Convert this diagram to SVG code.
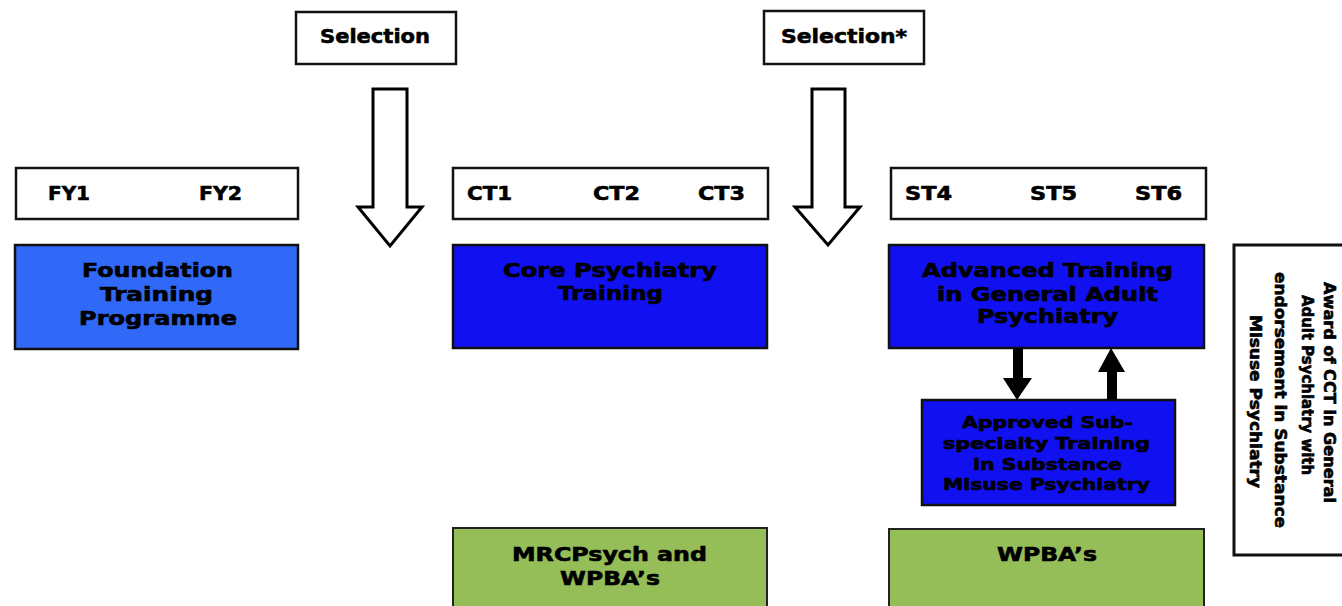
<svg xmlns="http://www.w3.org/2000/svg" width="1342" height="606" viewBox="0 0 1342 606">
<style>
.t{font-family:"DejaVu Sans",Verdana,sans-serif;font-weight:bold;fill:#000;stroke:#000;stroke-width:0.6}
.wb{fill:#fff;stroke:#111;stroke-width:2.5}
.blue1{fill:#3068F8;stroke:#111;stroke-width:2.5}
.blue2{fill:#1010F0;stroke:#111;stroke-width:2.5}
.green{fill:#95BD58;stroke:#222;stroke-width:2}
.blk{fill:#fff;stroke:#000;stroke-width:3;stroke-linejoin:miter}
</style>
<rect width="1342" height="606" fill="#fff"/>

<g id="selection1">
<rect class="wb" x="296" y="12" width="160" height="52"/>
<text class="t" x="320" y="43" font-size="20" textLength="110" lengthAdjust="spacingAndGlyphs">Selection</text>
</g>
<g id="selection2">
<rect class="wb" x="764" y="11" width="160" height="53"/>
<text class="t" x="781" y="43" font-size="20" textLength="126" lengthAdjust="spacingAndGlyphs">Selection*</text>
</g>

<g id="fy">
<rect class="wb" x="16" y="168" width="282" height="51"/>
<text class="t" x="48" y="200" font-size="19" textLength="42" lengthAdjust="spacingAndGlyphs">FY1</text>
<text class="t" x="199" y="200" font-size="19" textLength="43" lengthAdjust="spacingAndGlyphs">FY2</text>
</g>
<g id="ct">
<rect class="wb" x="453" y="168" width="315" height="51"/>
<text class="t" x="467" y="200" font-size="19" textLength="45" lengthAdjust="spacingAndGlyphs">CT1</text>
<text class="t" x="593" y="200" font-size="19" textLength="47" lengthAdjust="spacingAndGlyphs">CT2</text>
<text class="t" x="698" y="200" font-size="19" textLength="47" lengthAdjust="spacingAndGlyphs">CT3</text>
</g>
<g id="st">
<rect class="wb" x="891" y="168" width="315" height="51"/>
<text class="t" x="905" y="200" font-size="19" textLength="47" lengthAdjust="spacingAndGlyphs">ST4</text>
<text class="t" x="1030" y="200" font-size="19" textLength="47" lengthAdjust="spacingAndGlyphs">ST5</text>
<text class="t" x="1135" y="200" font-size="19" textLength="47" lengthAdjust="spacingAndGlyphs">ST6</text>
</g>

<g id="foundation">
<rect class="blue1" x="15" y="245" width="283" height="104"/>
<text class="t" x="82" y="277" font-size="19" textLength="151" lengthAdjust="spacingAndGlyphs">Foundation</text>
<text class="t" x="100" y="301" font-size="19" textLength="113" lengthAdjust="spacingAndGlyphs">Training</text>
<text class="t" x="79" y="325" font-size="19" textLength="158" lengthAdjust="spacingAndGlyphs">Programme</text>
</g>
<g id="core">
<rect class="blue2" x="453" y="245" width="314" height="103"/>
<text class="t" x="503" y="277" font-size="19" textLength="214" lengthAdjust="spacingAndGlyphs">Core Psychiatry</text>
<text class="t" x="558" y="300" font-size="19" textLength="105" lengthAdjust="spacingAndGlyphs">Training</text>
</g>
<g id="advanced">
<rect class="blue2" x="889" y="245" width="315" height="103"/>
<text class="t" x="922" y="277" font-size="19" textLength="251" lengthAdjust="spacingAndGlyphs">Advanced Training</text>
<text class="t" x="937" y="301" font-size="19" textLength="221" lengthAdjust="spacingAndGlyphs">in General Adult</text>
<text class="t" x="977" y="323" font-size="19" textLength="141" lengthAdjust="spacingAndGlyphs">Psychiatry</text>
</g>
<g id="subspecialty">
<rect class="blue2" x="922" y="400" width="253" height="105"/>
<text class="t" x="962" y="428" font-size="16" textLength="171" lengthAdjust="spacingAndGlyphs">Approved Sub-</text>
<text class="t" x="943" y="449" font-size="16" textLength="207" lengthAdjust="spacingAndGlyphs">specialty Training</text>
<text class="t" x="973" y="470" font-size="16" textLength="149" lengthAdjust="spacingAndGlyphs">in Substance</text>
<text class="t" x="943" y="490" font-size="16" textLength="207" lengthAdjust="spacingAndGlyphs">Misuse Psychiatry</text>
</g>
<g id="mrcpsych">
<rect class="green" x="453" y="528" width="314" height="100"/>
<text class="t" x="512" y="561" font-size="19" textLength="195" lengthAdjust="spacingAndGlyphs">MRCPsych and</text>
<text class="t" x="560" y="585" font-size="19" textLength="100" lengthAdjust="spacingAndGlyphs">WPBA’s</text>
</g>
<g id="wpba">
<rect class="green" x="889" y="529" width="315" height="100"/>
<text class="t" x="997" y="561" font-size="19" textLength="100" lengthAdjust="spacingAndGlyphs">WPBA’s</text>
</g>
<g id="award">
<rect fill="#fff" stroke="#111" stroke-width="3" x="1234" y="245" width="120" height="310"/>
<text class="t" font-size="15" transform="translate(1324,282) rotate(90)" textLength="221" lengthAdjust="spacingAndGlyphs">Award of CCT in General</text>
<text class="t" font-size="15" transform="translate(1302,295) rotate(90)" textLength="180" lengthAdjust="spacingAndGlyphs">Adult Psychiatry with</text>
<text class="t" font-size="15" transform="translate(1275,272) rotate(90)" textLength="256" lengthAdjust="spacingAndGlyphs">endorsement in Substance</text>
<text class="t" font-size="15" transform="translate(1250,315) rotate(90)" textLength="173" lengthAdjust="spacingAndGlyphs">Misuse Psychiatry</text>
</g>

<g id="connectors">
<polygon class="blk" points="373,89 407,89 407,207 422,207 390,246 358,207 373,207"/>
<polygon class="blk" points="812,89 845,89 845,207 860,207 828,245 795,207 812,207"/>
<line x1="1018" y1="348" x2="1018" y2="380" stroke="#000" stroke-width="10"/>
<polygon points="1003,378 1032,378 1017,400" fill="#000"/>
<line x1="1112" y1="400" x2="1112" y2="370" stroke="#000" stroke-width="10"/>
<polygon points="1098,372 1125,372 1111,348" fill="#000"/>
</g>
</svg>
